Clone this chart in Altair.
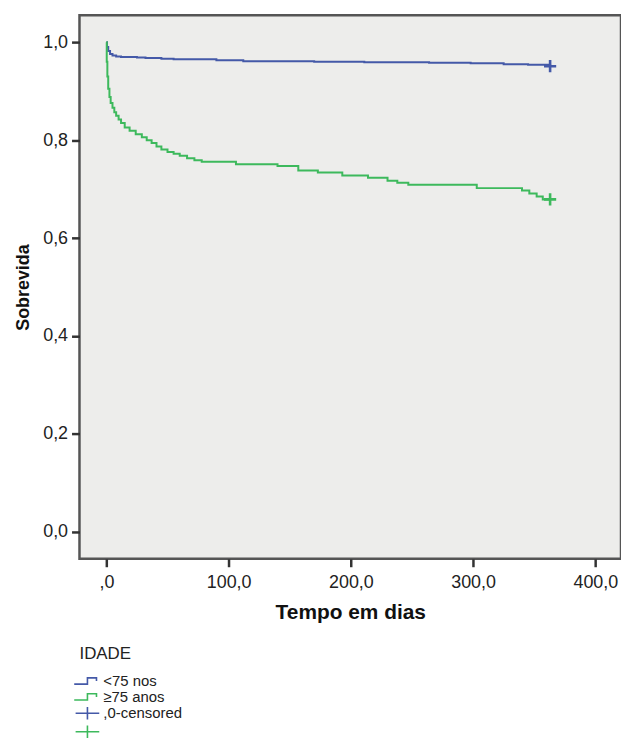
import altair as alt
import pandas as pd

# ---- data (Kaplan-Meier steps: day of drop, new survival) ----
blue_days = [0, 0.5, 1.5, 3, 5, 8, 12, 25, 32, 45, 55, 90, 112, 170, 211, 264, 298, 325, 345, 363]
blue_surv = [1.0, 0.99, 0.982, 0.976, 0.973, 0.971, 0.970, 0.969, 0.968, 0.966, 0.965, 0.963,
             0.961, 0.960, 0.959, 0.958, 0.957, 0.955, 0.954, 0.951]

green_days = [0, 0.3, 0.8, 1.5, 2.5, 3.5, 5, 6.5, 8, 10, 12, 15, 19, 24, 29, 33, 37, 41, 45, 50,
              55, 60, 66, 72, 78, 106, 140, 157, 173, 193, 214, 230, 238, 247, 303, 340, 346,
              352, 357, 363]
green_surv = [1.0, 0.96, 0.93, 0.905, 0.888, 0.876, 0.866, 0.857, 0.850, 0.842, 0.835, 0.826,
              0.819, 0.812, 0.806, 0.800, 0.794, 0.787, 0.781, 0.776, 0.772, 0.768, 0.763, 0.759,
              0.756, 0.751, 0.747, 0.738, 0.734, 0.728, 0.723, 0.717, 0.713, 0.709, 0.702, 0.697,
              0.691, 0.685, 0.679, 0.679]

censor_days = [363, 363]
censor_surv = [0.951, 0.679]

legend_keys = ["<75 nos", "≥75 anos", ",0-censored", " "]
legend_colors = ["#4459A8", "#3DB95C", "#4459A8", "#3DB95C"]

x_ticks = [0, 100, 200, 300, 400]
y_ticks = [0, 0.2, 0.4, 0.6, 0.8, 1.0]

lines_df = pd.concat([
    pd.DataFrame({"day": blue_days, "surv": blue_surv, "key": legend_keys[0]}),
    pd.DataFrame({"day": green_days, "surv": green_surv, "key": legend_keys[1]}),
])
cens_df = pd.DataFrame({"day": censor_days, "surv": censor_surv, "key": legend_keys[2:4]})

FONT = "Liberation Sans"
STEP_PATH = "M-1.9,0.45H0V-0.45H1.3V0"
LEG_PLUS_PATH = "M-1.7,0H1.7M0,-0.9V0.9"
PLOT_PLUS_PATH = "M-1,0H1M0,-1V1"

color_scale = alt.Scale(domain=legend_keys, range=legend_colors)
stroke_scale = alt.Scale(domain=legend_keys, range=legend_colors)
shape_scale = alt.Scale(domain=legend_keys,
                        range=[STEP_PATH, STEP_PATH, LEG_PLUS_PATH, LEG_PLUS_PATH])

legend = alt.Legend(
    orient="none", legendX=0, legendY=635, title="IDADE",
    titleFontSize=17, titleFontWeight="normal", titleColor="#222222", titleFont=FONT,
    titlePadding=10, labelFontSize=15, labelColor="#222222", labelFont=FONT,
    symbolSize=196, symbolStrokeWidth=1.6, symbolFillColor="transparent",
    rowPadding=-1.5, labelOffset=8,
)

x_enc = alt.X(
    "day:Q",
    scale=alt.Scale(domain=[-22, 421], nice=False, zero=False),
    axis=alt.Axis(
        values=x_ticks,
        labelExpr="datum.value == 0 ? ',0' : replace(format(datum.value, '.1f'), '.', ',')",
        title="Tempo em dias",
        tickSize=8, tickWidth=2.5, tickColor="#333333", domain=False, grid=False,
        labelFontSize=18, labelColor="#222222", labelPadding=7, labelFont=FONT,
        titleFontSize=21, titleFontWeight="bold", titleColor="#111111", titleFont=FONT,
        titlePadding=10,
    ),
)
y_enc = alt.Y(
    "surv:Q",
    scale=alt.Scale(domain=[-0.055, 1.055], nice=False, zero=False),
    axis=alt.Axis(
        values=y_ticks,
        labelExpr="replace(format(datum.value, '.1f'), '.', ',')",
        title="Sobrevida",
        tickSize=8, tickWidth=2.5, tickColor="#333333", domain=False, grid=False,
        labelFontSize=18, labelColor="#222222", labelPadding=4, labelFont=FONT,
        titleFontSize=18, titleFontWeight="bold", titleColor="#111111", titleFont=FONT,
        titlePadding=10,
    ),
)

lines = alt.Chart(lines_df).mark_line(interpolate="step-after", strokeWidth=2).encode(
    x=x_enc,
    y=y_enc,
    color=alt.Color("key:N", scale=color_scale, legend=legend),
    detail="key:N",
)

# legend carrier (zero-size marks, only feed the legend's shapes)
legend_pts = alt.Chart(cens_df).mark_point(filled=False, size=0, opacity=1).encode(
    x="day:Q",
    y="surv:Q",
    color=alt.Color("key:N", scale=color_scale, legend=legend),
    shape=alt.Shape("key:N", scale=shape_scale, legend=legend),
)

# visible censoring marks
cens_marks = alt.Chart(cens_df).mark_point(
    filled=False, size=150, strokeWidth=2.6, opacity=1, shape=PLOT_PLUS_PATH
).encode(
    x="day:Q",
    y="surv:Q",
    stroke=alt.Stroke("key:N", scale=stroke_scale, legend=None),
)

chart = alt.layer(lines, legend_pts, cens_marks).properties(
    width=545, height=547,
    padding={"left": 80, "top": 13, "right": 0, "bottom": 180},
    autosize=alt.AutoSizeParams(type="none"),
    background="white",
).configure_view(fill="#EDEDEB", stroke="#555555", strokeWidth=2.5)

chart.save("out.html", embed_options={"renderer": "svg", "actions": False})
